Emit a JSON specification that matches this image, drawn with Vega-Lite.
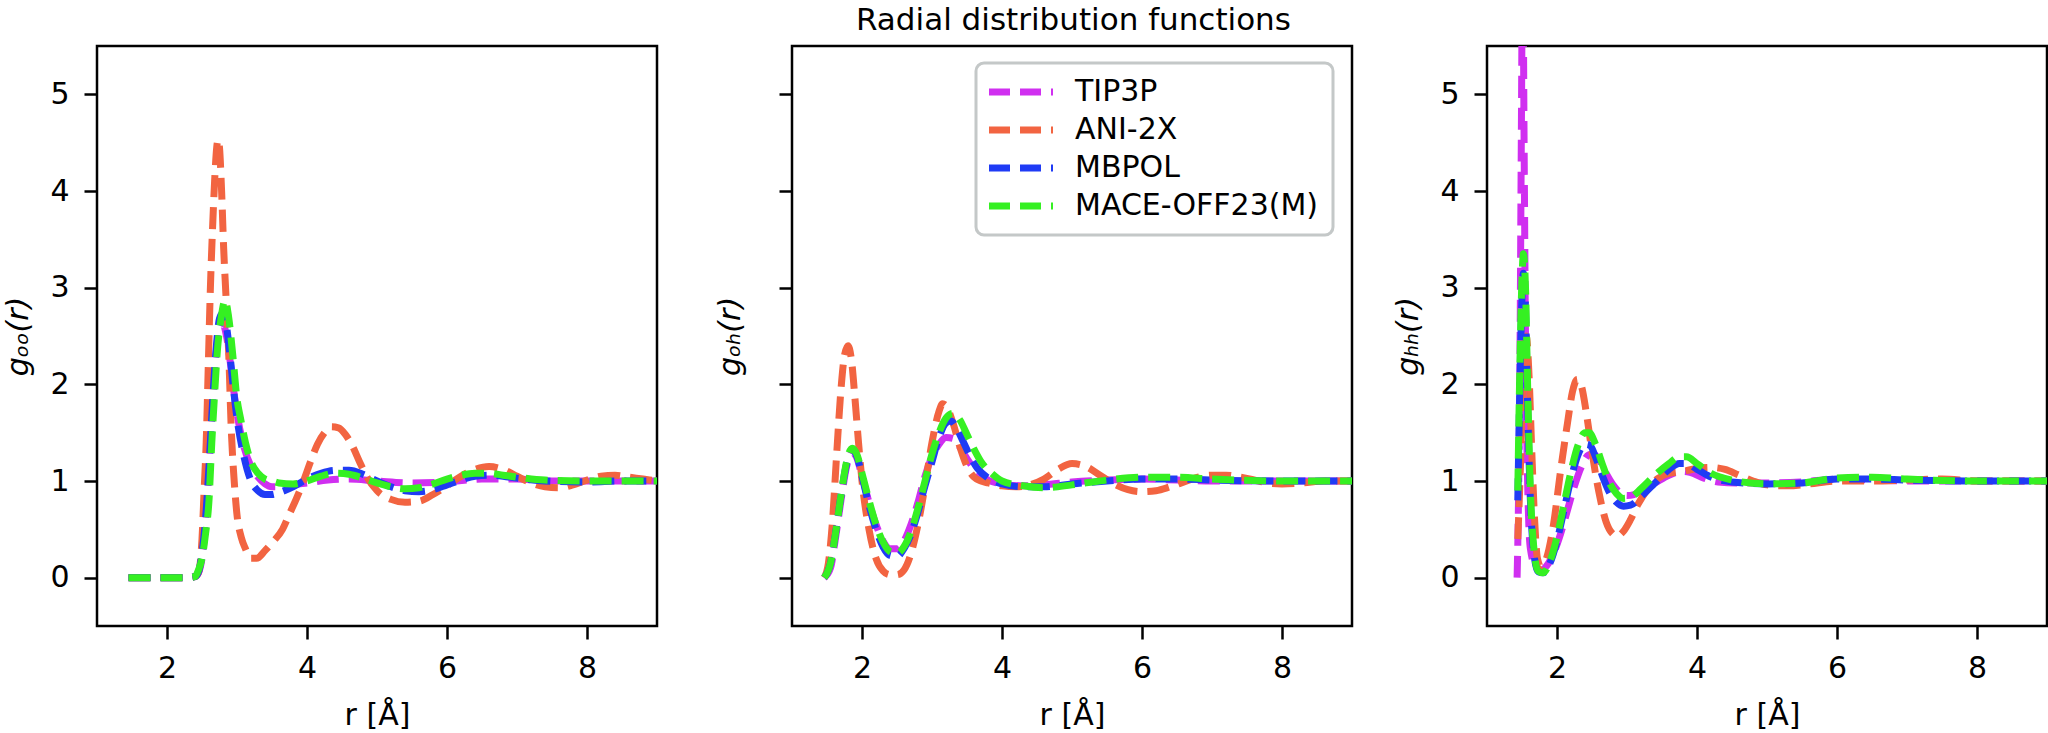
{
  "$schema": "https://vega.github.io/schema/vega-lite/v6.json",
  "background": "white",
  "padding": {"left": 2, "top": 4, "right": 0, "bottom": 0},
  "bounds": "flush",
  "spacing": 135,
  "title": {"text": "Radial distribution functions", "fontSize": 31, "font": "DejaVu Sans", "fontWeight": "normal", "color": "black", "anchor": "middle", "dx": 48, "offset": 8},
  "data": {"values": [
    {"p":"OO","m":"TIP3P","r":1.45,"g":0},{"p":"OO","m":"TIP3P","r":2.0,"g":0},{"p":"OO","m":"TIP3P","r":2.3,"g":0},{"p":"OO","m":"TIP3P","r":2.4,"g":0.01},{"p":"OO","m":"TIP3P","r":2.45,"g":0.05},{"p":"OO","m":"TIP3P","r":2.5,"g":0.2},{"p":"OO","m":"TIP3P","r":2.55,"g":0.55},{"p":"OO","m":"TIP3P","r":2.6,"g":1.1},{"p":"OO","m":"TIP3P","r":2.65,"g":1.75},{"p":"OO","m":"TIP3P","r":2.7,"g":2.3},{"p":"OO","m":"TIP3P","r":2.75,"g":2.58},{"p":"OO","m":"TIP3P","r":2.8,"g":2.62},{"p":"OO","m":"TIP3P","r":2.85,"g":2.5},{"p":"OO","m":"TIP3P","r":2.9,"g":2.25},{"p":"OO","m":"TIP3P","r":2.95,"g":1.95},{"p":"OO","m":"TIP3P","r":3.0,"g":1.7},{"p":"OO","m":"TIP3P","r":3.1,"g":1.35},{"p":"OO","m":"TIP3P","r":3.2,"g":1.15},{"p":"OO","m":"TIP3P","r":3.3,"g":1.04},{"p":"OO","m":"TIP3P","r":3.4,"g":0.97},{"p":"OO","m":"TIP3P","r":3.5,"g":0.94},{"p":"OO","m":"TIP3P","r":3.6,"g":0.94},{"p":"OO","m":"TIP3P","r":3.8,"g":0.96},{"p":"OO","m":"TIP3P","r":4.0,"g":0.98},{"p":"OO","m":"TIP3P","r":4.3,"g":1.01},{"p":"OO","m":"TIP3P","r":4.6,"g":1.02},{"p":"OO","m":"TIP3P","r":5.0,"g":1.0},{"p":"OO","m":"TIP3P","r":5.5,"g":0.98},{"p":"OO","m":"TIP3P","r":6.0,"g":0.99},{"p":"OO","m":"TIP3P","r":6.5,"g":1.02},{"p":"OO","m":"TIP3P","r":7.0,"g":1.02},{"p":"OO","m":"TIP3P","r":7.5,"g":1.0},{"p":"OO","m":"TIP3P","r":8.0,"g":1.0},{"p":"OO","m":"TIP3P","r":8.5,"g":1.0},{"p":"OO","m":"TIP3P","r":9.0,"g":1.0},
    {"p":"OO","m":"ANI-2X","r":1.45,"g":0},{"p":"OO","m":"ANI-2X","r":2.0,"g":0},{"p":"OO","m":"ANI-2X","r":2.3,"g":0},{"p":"OO","m":"ANI-2X","r":2.4,"g":0.01},{"p":"OO","m":"ANI-2X","r":2.45,"g":0.05},{"p":"OO","m":"ANI-2X","r":2.5,"g":0.4},{"p":"OO","m":"ANI-2X","r":2.53,"g":0.9},{"p":"OO","m":"ANI-2X","r":2.56,"g":1.4},{"p":"OO","m":"ANI-2X","r":2.59,"g":2.2},{"p":"OO","m":"ANI-2X","r":2.62,"g":3.0},{"p":"OO","m":"ANI-2X","r":2.65,"g":3.6},{"p":"OO","m":"ANI-2X","r":2.68,"g":4.1},{"p":"OO","m":"ANI-2X","r":2.71,"g":4.45},{"p":"OO","m":"ANI-2X","r":2.73,"g":4.53},{"p":"OO","m":"ANI-2X","r":2.75,"g":4.45},{"p":"OO","m":"ANI-2X","r":2.78,"g":4.0},{"p":"OO","m":"ANI-2X","r":2.81,"g":3.4},{"p":"OO","m":"ANI-2X","r":2.84,"g":2.95},{"p":"OO","m":"ANI-2X","r":2.88,"g":2.35},{"p":"OO","m":"ANI-2X","r":2.92,"g":1.5},{"p":"OO","m":"ANI-2X","r":2.96,"g":1.0},{"p":"OO","m":"ANI-2X","r":3.0,"g":0.65},{"p":"OO","m":"ANI-2X","r":3.06,"g":0.42},{"p":"OO","m":"ANI-2X","r":3.12,"g":0.3},{"p":"OO","m":"ANI-2X","r":3.2,"g":0.2},{"p":"OO","m":"ANI-2X","r":3.28,"g":0.2},{"p":"OO","m":"ANI-2X","r":3.4,"g":0.28},{"p":"OO","m":"ANI-2X","r":3.5,"g":0.36},{"p":"OO","m":"ANI-2X","r":3.65,"g":0.5},{"p":"OO","m":"ANI-2X","r":3.75,"g":0.66},{"p":"OO","m":"ANI-2X","r":3.85,"g":0.82},{"p":"OO","m":"ANI-2X","r":3.95,"g":1.0},{"p":"OO","m":"ANI-2X","r":4.05,"g":1.2},{"p":"OO","m":"ANI-2X","r":4.15,"g":1.38},{"p":"OO","m":"ANI-2X","r":4.25,"g":1.5},{"p":"OO","m":"ANI-2X","r":4.35,"g":1.56},{"p":"OO","m":"ANI-2X","r":4.45,"g":1.55},{"p":"OO","m":"ANI-2X","r":4.55,"g":1.48},{"p":"OO","m":"ANI-2X","r":4.65,"g":1.36},{"p":"OO","m":"ANI-2X","r":4.75,"g":1.2},{"p":"OO","m":"ANI-2X","r":4.85,"g":1.05},{"p":"OO","m":"ANI-2X","r":5.0,"g":0.9},{"p":"OO","m":"ANI-2X","r":5.2,"g":0.81},{"p":"OO","m":"ANI-2X","r":5.4,"g":0.78},{"p":"OO","m":"ANI-2X","r":5.6,"g":0.79},{"p":"OO","m":"ANI-2X","r":5.8,"g":0.86},{"p":"OO","m":"ANI-2X","r":6.0,"g":0.95},{"p":"OO","m":"ANI-2X","r":6.2,"g":1.05},{"p":"OO","m":"ANI-2X","r":6.4,"g":1.12},{"p":"OO","m":"ANI-2X","r":6.6,"g":1.15},{"p":"OO","m":"ANI-2X","r":6.8,"g":1.12},{"p":"OO","m":"ANI-2X","r":7.0,"g":1.05},{"p":"OO","m":"ANI-2X","r":7.2,"g":0.98},{"p":"OO","m":"ANI-2X","r":7.4,"g":0.94},{"p":"OO","m":"ANI-2X","r":7.6,"g":0.93},{"p":"OO","m":"ANI-2X","r":7.8,"g":0.96},{"p":"OO","m":"ANI-2X","r":8.0,"g":1.01},{"p":"OO","m":"ANI-2X","r":8.2,"g":1.05},{"p":"OO","m":"ANI-2X","r":8.4,"g":1.06},{"p":"OO","m":"ANI-2X","r":8.6,"g":1.04},{"p":"OO","m":"ANI-2X","r":8.8,"g":1.02},{"p":"OO","m":"ANI-2X","r":9.0,"g":1.0},
    {"p":"OO","m":"MBPOL","r":1.45,"g":0},{"p":"OO","m":"MBPOL","r":2.0,"g":0},{"p":"OO","m":"MBPOL","r":2.3,"g":0},{"p":"OO","m":"MBPOL","r":2.4,"g":0.01},{"p":"OO","m":"MBPOL","r":2.45,"g":0.06},{"p":"OO","m":"MBPOL","r":2.5,"g":0.25},{"p":"OO","m":"MBPOL","r":2.55,"g":0.6},{"p":"OO","m":"MBPOL","r":2.6,"g":1.15},{"p":"OO","m":"MBPOL","r":2.65,"g":1.8},{"p":"OO","m":"MBPOL","r":2.7,"g":2.35},{"p":"OO","m":"MBPOL","r":2.75,"g":2.68},{"p":"OO","m":"MBPOL","r":2.8,"g":2.74},{"p":"OO","m":"MBPOL","r":2.85,"g":2.6},{"p":"OO","m":"MBPOL","r":2.9,"g":2.3},{"p":"OO","m":"MBPOL","r":2.95,"g":1.95},{"p":"OO","m":"MBPOL","r":3.0,"g":1.65},{"p":"OO","m":"MBPOL","r":3.1,"g":1.25},{"p":"OO","m":"MBPOL","r":3.2,"g":1.0},{"p":"OO","m":"MBPOL","r":3.3,"g":0.9},{"p":"OO","m":"MBPOL","r":3.4,"g":0.86},{"p":"OO","m":"MBPOL","r":3.5,"g":0.86},{"p":"OO","m":"MBPOL","r":3.6,"g":0.88},{"p":"OO","m":"MBPOL","r":3.8,"g":0.94},{"p":"OO","m":"MBPOL","r":4.0,"g":1.02},{"p":"OO","m":"MBPOL","r":4.2,"g":1.08},{"p":"OO","m":"MBPOL","r":4.4,"g":1.11},{"p":"OO","m":"MBPOL","r":4.6,"g":1.11},{"p":"OO","m":"MBPOL","r":4.8,"g":1.07},{"p":"OO","m":"MBPOL","r":5.0,"g":1.0},{"p":"OO","m":"MBPOL","r":5.2,"g":0.94},{"p":"OO","m":"MBPOL","r":5.4,"g":0.9},{"p":"OO","m":"MBPOL","r":5.6,"g":0.89},{"p":"OO","m":"MBPOL","r":5.8,"g":0.91},{"p":"OO","m":"MBPOL","r":6.0,"g":0.96},{"p":"OO","m":"MBPOL","r":6.2,"g":1.01},{"p":"OO","m":"MBPOL","r":6.4,"g":1.05},{"p":"OO","m":"MBPOL","r":6.6,"g":1.06},{"p":"OO","m":"MBPOL","r":6.8,"g":1.05},{"p":"OO","m":"MBPOL","r":7.0,"g":1.03},{"p":"OO","m":"MBPOL","r":7.4,"g":1.0},{"p":"OO","m":"MBPOL","r":8.0,"g":0.99},{"p":"OO","m":"MBPOL","r":8.5,"g":1.0},{"p":"OO","m":"MBPOL","r":9.0,"g":1.0},
    {"p":"OO","m":"MACE-OFF23(M)","r":1.45,"g":0},{"p":"OO","m":"MACE-OFF23(M)","r":2.0,"g":0},{"p":"OO","m":"MACE-OFF23(M)","r":2.3,"g":0},{"p":"OO","m":"MACE-OFF23(M)","r":2.4,"g":0.01},{"p":"OO","m":"MACE-OFF23(M)","r":2.45,"g":0.08},{"p":"OO","m":"MACE-OFF23(M)","r":2.5,"g":0.2},{"p":"OO","m":"MACE-OFF23(M)","r":2.55,"g":0.45},{"p":"OO","m":"MACE-OFF23(M)","r":2.6,"g":0.8},{"p":"OO","m":"MACE-OFF23(M)","r":2.64,"g":1.4},{"p":"OO","m":"MACE-OFF23(M)","r":2.68,"g":1.9},{"p":"OO","m":"MACE-OFF23(M)","r":2.72,"g":2.35},{"p":"OO","m":"MACE-OFF23(M)","r":2.77,"g":2.67},{"p":"OO","m":"MACE-OFF23(M)","r":2.83,"g":2.87},{"p":"OO","m":"MACE-OFF23(M)","r":2.88,"g":2.7},{"p":"OO","m":"MACE-OFF23(M)","r":2.94,"g":2.3},{"p":"OO","m":"MACE-OFF23(M)","r":3.0,"g":1.85},{"p":"OO","m":"MACE-OFF23(M)","r":3.05,"g":1.65},{"p":"OO","m":"MACE-OFF23(M)","r":3.12,"g":1.4},{"p":"OO","m":"MACE-OFF23(M)","r":3.2,"g":1.2},{"p":"OO","m":"MACE-OFF23(M)","r":3.3,"g":1.08},{"p":"OO","m":"MACE-OFF23(M)","r":3.4,"g":1.02},{"p":"OO","m":"MACE-OFF23(M)","r":3.5,"g":1.0},{"p":"OO","m":"MACE-OFF23(M)","r":3.6,"g":0.98},{"p":"OO","m":"MACE-OFF23(M)","r":3.8,"g":0.97},{"p":"OO","m":"MACE-OFF23(M)","r":4.0,"g":1.0},{"p":"OO","m":"MACE-OFF23(M)","r":4.2,"g":1.05},{"p":"OO","m":"MACE-OFF23(M)","r":4.4,"g":1.08},{"p":"OO","m":"MACE-OFF23(M)","r":4.6,"g":1.07},{"p":"OO","m":"MACE-OFF23(M)","r":4.8,"g":1.03},{"p":"OO","m":"MACE-OFF23(M)","r":5.0,"g":0.98},{"p":"OO","m":"MACE-OFF23(M)","r":5.2,"g":0.94},{"p":"OO","m":"MACE-OFF23(M)","r":5.4,"g":0.92},{"p":"OO","m":"MACE-OFF23(M)","r":5.6,"g":0.93},{"p":"OO","m":"MACE-OFF23(M)","r":5.8,"g":0.97},{"p":"OO","m":"MACE-OFF23(M)","r":6.0,"g":1.02},{"p":"OO","m":"MACE-OFF23(M)","r":6.2,"g":1.06},{"p":"OO","m":"MACE-OFF23(M)","r":6.4,"g":1.08},{"p":"OO","m":"MACE-OFF23(M)","r":6.6,"g":1.08},{"p":"OO","m":"MACE-OFF23(M)","r":6.8,"g":1.06},{"p":"OO","m":"MACE-OFF23(M)","r":7.0,"g":1.04},{"p":"OO","m":"MACE-OFF23(M)","r":7.4,"g":1.01},{"p":"OO","m":"MACE-OFF23(M)","r":8.0,"g":1.0},{"p":"OO","m":"MACE-OFF23(M)","r":8.5,"g":1.0},{"p":"OO","m":"MACE-OFF23(M)","r":9.0,"g":1.0},

    {"p":"OH","m":"TIP3P","r":1.46,"g":0},{"p":"OH","m":"TIP3P","r":1.55,"g":0.1},{"p":"OH","m":"TIP3P","r":1.62,"g":0.4},{"p":"OH","m":"TIP3P","r":1.7,"g":0.8},{"p":"OH","m":"TIP3P","r":1.78,"g":1.15},{"p":"OH","m":"TIP3P","r":1.85,"g":1.3},{"p":"OH","m":"TIP3P","r":1.92,"g":1.25},{"p":"OH","m":"TIP3P","r":2.0,"g":1.05},{"p":"OH","m":"TIP3P","r":2.1,"g":0.78},{"p":"OH","m":"TIP3P","r":2.2,"g":0.55},{"p":"OH","m":"TIP3P","r":2.3,"g":0.38},{"p":"OH","m":"TIP3P","r":2.4,"g":0.3},{"p":"OH","m":"TIP3P","r":2.5,"g":0.3},{"p":"OH","m":"TIP3P","r":2.6,"g":0.38},{"p":"OH","m":"TIP3P","r":2.7,"g":0.55},{"p":"OH","m":"TIP3P","r":2.8,"g":0.78},{"p":"OH","m":"TIP3P","r":2.9,"g":1.05},{"p":"OH","m":"TIP3P","r":3.0,"g":1.25},{"p":"OH","m":"TIP3P","r":3.1,"g":1.38},{"p":"OH","m":"TIP3P","r":3.2,"g":1.45},{"p":"OH","m":"TIP3P","r":3.3,"g":1.44},{"p":"OH","m":"TIP3P","r":3.4,"g":1.35},{"p":"OH","m":"TIP3P","r":3.5,"g":1.23},{"p":"OH","m":"TIP3P","r":3.6,"g":1.13},{"p":"OH","m":"TIP3P","r":3.7,"g":1.06},{"p":"OH","m":"TIP3P","r":3.8,"g":1.01},{"p":"OH","m":"TIP3P","r":4.0,"g":0.97},{"p":"OH","m":"TIP3P","r":4.3,"g":0.95},{"p":"OH","m":"TIP3P","r":4.6,"g":0.96},{"p":"OH","m":"TIP3P","r":5.0,"g":0.99},{"p":"OH","m":"TIP3P","r":5.5,"g":1.01},{"p":"OH","m":"TIP3P","r":6.0,"g":1.02},{"p":"OH","m":"TIP3P","r":6.5,"g":1.01},{"p":"OH","m":"TIP3P","r":7.0,"g":1.0},{"p":"OH","m":"TIP3P","r":8.0,"g":1.0},{"p":"OH","m":"TIP3P","r":9.0,"g":1.0},
    {"p":"OH","m":"ANI-2X","r":1.46,"g":0},{"p":"OH","m":"ANI-2X","r":1.52,"g":0.15},{"p":"OH","m":"ANI-2X","r":1.58,"g":0.6},{"p":"OH","m":"ANI-2X","r":1.64,"g":1.3},{"p":"OH","m":"ANI-2X","r":1.7,"g":1.95},{"p":"OH","m":"ANI-2X","r":1.75,"g":2.3},{"p":"OH","m":"ANI-2X","r":1.8,"g":2.4},{"p":"OH","m":"ANI-2X","r":1.85,"g":2.25},{"p":"OH","m":"ANI-2X","r":1.9,"g":1.85},{"p":"OH","m":"ANI-2X","r":1.95,"g":1.4},{"p":"OH","m":"ANI-2X","r":2.0,"g":1.0},{"p":"OH","m":"ANI-2X","r":2.1,"g":0.5},{"p":"OH","m":"ANI-2X","r":2.2,"g":0.2},{"p":"OH","m":"ANI-2X","r":2.3,"g":0.07},{"p":"OH","m":"ANI-2X","r":2.4,"g":0.03},{"p":"OH","m":"ANI-2X","r":2.5,"g":0.03},{"p":"OH","m":"ANI-2X","r":2.6,"g":0.08},{"p":"OH","m":"ANI-2X","r":2.7,"g":0.25},{"p":"OH","m":"ANI-2X","r":2.8,"g":0.55},{"p":"OH","m":"ANI-2X","r":2.9,"g":0.95},{"p":"OH","m":"ANI-2X","r":3.0,"g":1.4},{"p":"OH","m":"ANI-2X","r":3.1,"g":1.72},{"p":"OH","m":"ANI-2X","r":3.15,"g":1.8},{"p":"OH","m":"ANI-2X","r":3.2,"g":1.78},{"p":"OH","m":"ANI-2X","r":3.3,"g":1.6},{"p":"OH","m":"ANI-2X","r":3.4,"g":1.35},{"p":"OH","m":"ANI-2X","r":3.5,"g":1.15},{"p":"OH","m":"ANI-2X","r":3.6,"g":1.04},{"p":"OH","m":"ANI-2X","r":3.7,"g":1.0},{"p":"OH","m":"ANI-2X","r":3.8,"g":0.98},{"p":"OH","m":"ANI-2X","r":4.0,"g":0.95},{"p":"OH","m":"ANI-2X","r":4.2,"g":0.94},{"p":"OH","m":"ANI-2X","r":4.4,"g":0.96},{"p":"OH","m":"ANI-2X","r":4.6,"g":1.02},{"p":"OH","m":"ANI-2X","r":4.8,"g":1.12},{"p":"OH","m":"ANI-2X","r":5.0,"g":1.18},{"p":"OH","m":"ANI-2X","r":5.2,"g":1.15},{"p":"OH","m":"ANI-2X","r":5.4,"g":1.06},{"p":"OH","m":"ANI-2X","r":5.6,"g":0.97},{"p":"OH","m":"ANI-2X","r":5.8,"g":0.91},{"p":"OH","m":"ANI-2X","r":6.0,"g":0.89},{"p":"OH","m":"ANI-2X","r":6.2,"g":0.9},{"p":"OH","m":"ANI-2X","r":6.4,"g":0.94},{"p":"OH","m":"ANI-2X","r":6.6,"g":0.99},{"p":"OH","m":"ANI-2X","r":6.8,"g":1.04},{"p":"OH","m":"ANI-2X","r":7.0,"g":1.06},{"p":"OH","m":"ANI-2X","r":7.2,"g":1.06},{"p":"OH","m":"ANI-2X","r":7.4,"g":1.04},{"p":"OH","m":"ANI-2X","r":7.6,"g":1.01},{"p":"OH","m":"ANI-2X","r":7.8,"g":0.98},{"p":"OH","m":"ANI-2X","r":8.0,"g":0.97},{"p":"OH","m":"ANI-2X","r":8.3,"g":0.98},{"p":"OH","m":"ANI-2X","r":8.6,"g":1.0},{"p":"OH","m":"ANI-2X","r":9.0,"g":1.0},
    {"p":"OH","m":"MBPOL","r":1.46,"g":0},{"p":"OH","m":"MBPOL","r":1.55,"g":0.15},{"p":"OH","m":"MBPOL","r":1.62,"g":0.45},{"p":"OH","m":"MBPOL","r":1.7,"g":0.85},{"p":"OH","m":"MBPOL","r":1.78,"g":1.18},{"p":"OH","m":"MBPOL","r":1.86,"g":1.32},{"p":"OH","m":"MBPOL","r":1.93,"g":1.25},{"p":"OH","m":"MBPOL","r":2.0,"g":1.05},{"p":"OH","m":"MBPOL","r":2.1,"g":0.75},{"p":"OH","m":"MBPOL","r":2.2,"g":0.5},{"p":"OH","m":"MBPOL","r":2.3,"g":0.32},{"p":"OH","m":"MBPOL","r":2.4,"g":0.23},{"p":"OH","m":"MBPOL","r":2.5,"g":0.22},{"p":"OH","m":"MBPOL","r":2.6,"g":0.3},{"p":"OH","m":"MBPOL","r":2.7,"g":0.45},{"p":"OH","m":"MBPOL","r":2.8,"g":0.68},{"p":"OH","m":"MBPOL","r":2.9,"g":0.95},{"p":"OH","m":"MBPOL","r":3.0,"g":1.2},{"p":"OH","m":"MBPOL","r":3.1,"g":1.45},{"p":"OH","m":"MBPOL","r":3.2,"g":1.6},{"p":"OH","m":"MBPOL","r":3.27,"g":1.62},{"p":"OH","m":"MBPOL","r":3.35,"g":1.55},{"p":"OH","m":"MBPOL","r":3.45,"g":1.4},{"p":"OH","m":"MBPOL","r":3.55,"g":1.25},{"p":"OH","m":"MBPOL","r":3.65,"g":1.13},{"p":"OH","m":"MBPOL","r":3.8,"g":1.03},{"p":"OH","m":"MBPOL","r":4.0,"g":0.97},{"p":"OH","m":"MBPOL","r":4.3,"g":0.94},{"p":"OH","m":"MBPOL","r":4.6,"g":0.94},{"p":"OH","m":"MBPOL","r":5.0,"g":0.97},{"p":"OH","m":"MBPOL","r":5.5,"g":1.0},{"p":"OH","m":"MBPOL","r":6.0,"g":1.02},{"p":"OH","m":"MBPOL","r":6.5,"g":1.02},{"p":"OH","m":"MBPOL","r":7.0,"g":1.01},{"p":"OH","m":"MBPOL","r":8.0,"g":1.0},{"p":"OH","m":"MBPOL","r":9.0,"g":1.0},
    {"p":"OH","m":"MACE-OFF23(M)","r":1.46,"g":0},{"p":"OH","m":"MACE-OFF23(M)","r":1.55,"g":0.15},{"p":"OH","m":"MACE-OFF23(M)","r":1.62,"g":0.45},{"p":"OH","m":"MACE-OFF23(M)","r":1.7,"g":0.85},{"p":"OH","m":"MACE-OFF23(M)","r":1.78,"g":1.2},{"p":"OH","m":"MACE-OFF23(M)","r":1.86,"g":1.34},{"p":"OH","m":"MACE-OFF23(M)","r":1.93,"g":1.27},{"p":"OH","m":"MACE-OFF23(M)","r":2.0,"g":1.08},{"p":"OH","m":"MACE-OFF23(M)","r":2.1,"g":0.8},{"p":"OH","m":"MACE-OFF23(M)","r":2.2,"g":0.55},{"p":"OH","m":"MACE-OFF23(M)","r":2.3,"g":0.37},{"p":"OH","m":"MACE-OFF23(M)","r":2.4,"g":0.27},{"p":"OH","m":"MACE-OFF23(M)","r":2.5,"g":0.25},{"p":"OH","m":"MACE-OFF23(M)","r":2.6,"g":0.32},{"p":"OH","m":"MACE-OFF23(M)","r":2.7,"g":0.48},{"p":"OH","m":"MACE-OFF23(M)","r":2.8,"g":0.72},{"p":"OH","m":"MACE-OFF23(M)","r":2.9,"g":1.0},{"p":"OH","m":"MACE-OFF23(M)","r":3.0,"g":1.28},{"p":"OH","m":"MACE-OFF23(M)","r":3.1,"g":1.5},{"p":"OH","m":"MACE-OFF23(M)","r":3.2,"g":1.65},{"p":"OH","m":"MACE-OFF23(M)","r":3.3,"g":1.7},{"p":"OH","m":"MACE-OFF23(M)","r":3.4,"g":1.63},{"p":"OH","m":"MACE-OFF23(M)","r":3.5,"g":1.48},{"p":"OH","m":"MACE-OFF23(M)","r":3.6,"g":1.33},{"p":"OH","m":"MACE-OFF23(M)","r":3.7,"g":1.2},{"p":"OH","m":"MACE-OFF23(M)","r":3.85,"g":1.08},{"p":"OH","m":"MACE-OFF23(M)","r":4.0,"g":1.0},{"p":"OH","m":"MACE-OFF23(M)","r":4.3,"g":0.95},{"p":"OH","m":"MACE-OFF23(M)","r":4.6,"g":0.93},{"p":"OH","m":"MACE-OFF23(M)","r":5.0,"g":0.96},{"p":"OH","m":"MACE-OFF23(M)","r":5.5,"g":1.01},{"p":"OH","m":"MACE-OFF23(M)","r":6.0,"g":1.04},{"p":"OH","m":"MACE-OFF23(M)","r":6.5,"g":1.04},{"p":"OH","m":"MACE-OFF23(M)","r":7.0,"g":1.02},{"p":"OH","m":"MACE-OFF23(M)","r":8.0,"g":1.0},{"p":"OH","m":"MACE-OFF23(M)","r":9.0,"g":1.0},

    {"p":"HH","m":"TIP3P","r":1.43,"g":0},{"p":"HH","m":"TIP3P","r":1.45,"g":0.8},{"p":"HH","m":"TIP3P","r":1.47,"g":2.2},{"p":"HH","m":"TIP3P","r":1.49,"g":4.5},{"p":"HH","m":"TIP3P","r":1.51,"g":6.5},{"p":"HH","m":"TIP3P","r":1.53,"g":4.5},{"p":"HH","m":"TIP3P","r":1.55,"g":2.5},{"p":"HH","m":"TIP3P","r":1.58,"g":1.0},{"p":"HH","m":"TIP3P","r":1.62,"g":0.3},{"p":"HH","m":"TIP3P","r":1.7,"g":0.1},{"p":"HH","m":"TIP3P","r":1.78,"g":0.08},{"p":"HH","m":"TIP3P","r":1.85,"g":0.12},{"p":"HH","m":"TIP3P","r":1.95,"g":0.25},{"p":"HH","m":"TIP3P","r":2.05,"g":0.45},{"p":"HH","m":"TIP3P","r":2.15,"g":0.7},{"p":"HH","m":"TIP3P","r":2.25,"g":0.95},{"p":"HH","m":"TIP3P","r":2.35,"g":1.15},{"p":"HH","m":"TIP3P","r":2.45,"g":1.27},{"p":"HH","m":"TIP3P","r":2.52,"g":1.28},{"p":"HH","m":"TIP3P","r":2.6,"g":1.22},{"p":"HH","m":"TIP3P","r":2.7,"g":1.08},{"p":"HH","m":"TIP3P","r":2.8,"g":0.96},{"p":"HH","m":"TIP3P","r":2.9,"g":0.88},{"p":"HH","m":"TIP3P","r":3.0,"g":0.85},{"p":"HH","m":"TIP3P","r":3.1,"g":0.86},{"p":"HH","m":"TIP3P","r":3.2,"g":0.9},{"p":"HH","m":"TIP3P","r":3.4,"g":0.98},{"p":"HH","m":"TIP3P","r":3.6,"g":1.06},{"p":"HH","m":"TIP3P","r":3.8,"g":1.1},{"p":"HH","m":"TIP3P","r":3.9,"g":1.09},{"p":"HH","m":"TIP3P","r":4.1,"g":1.03},{"p":"HH","m":"TIP3P","r":4.3,"g":0.99},{"p":"HH","m":"TIP3P","r":4.6,"g":0.98},{"p":"HH","m":"TIP3P","r":5.0,"g":0.98},{"p":"HH","m":"TIP3P","r":5.5,"g":0.99},{"p":"HH","m":"TIP3P","r":6.0,"g":1.02},{"p":"HH","m":"TIP3P","r":6.5,"g":1.01},{"p":"HH","m":"TIP3P","r":7.0,"g":1.0},{"p":"HH","m":"TIP3P","r":8.0,"g":1.0},{"p":"HH","m":"TIP3P","r":9.0,"g":1.0},
    {"p":"HH","m":"ANI-2X","r":1.44,"g":0.4},{"p":"HH","m":"ANI-2X","r":1.48,"g":1.2},{"p":"HH","m":"ANI-2X","r":1.52,"g":2.2},{"p":"HH","m":"ANI-2X","r":1.56,"g":2.5},{"p":"HH","m":"ANI-2X","r":1.6,"g":2.1},{"p":"HH","m":"ANI-2X","r":1.64,"g":1.3},{"p":"HH","m":"ANI-2X","r":1.68,"g":0.6},{"p":"HH","m":"ANI-2X","r":1.72,"g":0.2},{"p":"HH","m":"ANI-2X","r":1.78,"g":0.1},{"p":"HH","m":"ANI-2X","r":1.85,"g":0.2},{"p":"HH","m":"ANI-2X","r":1.95,"g":0.55},{"p":"HH","m":"ANI-2X","r":2.05,"g":1.1},{"p":"HH","m":"ANI-2X","r":2.15,"g":1.6},{"p":"HH","m":"ANI-2X","r":2.22,"g":1.92},{"p":"HH","m":"ANI-2X","r":2.29,"g":2.05},{"p":"HH","m":"ANI-2X","r":2.35,"g":1.98},{"p":"HH","m":"ANI-2X","r":2.42,"g":1.7},{"p":"HH","m":"ANI-2X","r":2.5,"g":1.3},{"p":"HH","m":"ANI-2X","r":2.6,"g":0.88},{"p":"HH","m":"ANI-2X","r":2.7,"g":0.58},{"p":"HH","m":"ANI-2X","r":2.8,"g":0.45},{"p":"HH","m":"ANI-2X","r":2.86,"g":0.43},{"p":"HH","m":"ANI-2X","r":2.95,"g":0.48},{"p":"HH","m":"ANI-2X","r":3.05,"g":0.6},{"p":"HH","m":"ANI-2X","r":3.15,"g":0.75},{"p":"HH","m":"ANI-2X","r":3.3,"g":0.92},{"p":"HH","m":"ANI-2X","r":3.45,"g":1.03},{"p":"HH","m":"ANI-2X","r":3.6,"g":1.08},{"p":"HH","m":"ANI-2X","r":3.8,"g":1.1},{"p":"HH","m":"ANI-2X","r":4.0,"g":1.13},{"p":"HH","m":"ANI-2X","r":4.2,"g":1.14},{"p":"HH","m":"ANI-2X","r":4.4,"g":1.12},{"p":"HH","m":"ANI-2X","r":4.6,"g":1.06},{"p":"HH","m":"ANI-2X","r":4.8,"g":1.0},{"p":"HH","m":"ANI-2X","r":5.0,"g":0.96},{"p":"HH","m":"ANI-2X","r":5.3,"g":0.95},{"p":"HH","m":"ANI-2X","r":5.6,"g":0.97},{"p":"HH","m":"ANI-2X","r":6.0,"g":1.0},{"p":"HH","m":"ANI-2X","r":6.5,"g":1.0},{"p":"HH","m":"ANI-2X","r":7.0,"g":1.01},{"p":"HH","m":"ANI-2X","r":7.5,"g":1.02},{"p":"HH","m":"ANI-2X","r":8.0,"g":1.0},{"p":"HH","m":"ANI-2X","r":9.0,"g":1.0},
    {"p":"HH","m":"MBPOL","r":1.44,"g":0.8},{"p":"HH","m":"MBPOL","r":1.47,"g":2.0},{"p":"HH","m":"MBPOL","r":1.5,"g":2.9},{"p":"HH","m":"MBPOL","r":1.52,"g":3.15},{"p":"HH","m":"MBPOL","r":1.55,"g":2.8},{"p":"HH","m":"MBPOL","r":1.58,"g":1.8},{"p":"HH","m":"MBPOL","r":1.62,"g":0.8},{"p":"HH","m":"MBPOL","r":1.67,"g":0.25},{"p":"HH","m":"MBPOL","r":1.73,"g":0.06},{"p":"HH","m":"MBPOL","r":1.8,"g":0.05},{"p":"HH","m":"MBPOL","r":1.9,"g":0.15},{"p":"HH","m":"MBPOL","r":2.0,"g":0.38},{"p":"HH","m":"MBPOL","r":2.1,"g":0.7},{"p":"HH","m":"MBPOL","r":2.2,"g":1.02},{"p":"HH","m":"MBPOL","r":2.3,"g":1.27},{"p":"HH","m":"MBPOL","r":2.4,"g":1.38},{"p":"HH","m":"MBPOL","r":2.47,"g":1.37},{"p":"HH","m":"MBPOL","r":2.55,"g":1.25},{"p":"HH","m":"MBPOL","r":2.65,"g":1.05},{"p":"HH","m":"MBPOL","r":2.75,"g":0.88},{"p":"HH","m":"MBPOL","r":2.85,"g":0.78},{"p":"HH","m":"MBPOL","r":2.95,"g":0.74},{"p":"HH","m":"MBPOL","r":3.05,"g":0.75},{"p":"HH","m":"MBPOL","r":3.2,"g":0.84},{"p":"HH","m":"MBPOL","r":3.4,"g":0.98},{"p":"HH","m":"MBPOL","r":3.6,"g":1.12},{"p":"HH","m":"MBPOL","r":3.75,"g":1.18},{"p":"HH","m":"MBPOL","r":3.85,"g":1.18},{"p":"HH","m":"MBPOL","r":4.0,"g":1.12},{"p":"HH","m":"MBPOL","r":4.2,"g":1.04},{"p":"HH","m":"MBPOL","r":4.5,"g":0.99},{"p":"HH","m":"MBPOL","r":5.0,"g":0.97},{"p":"HH","m":"MBPOL","r":5.5,"g":0.98},{"p":"HH","m":"MBPOL","r":6.0,"g":1.02},{"p":"HH","m":"MBPOL","r":6.5,"g":1.02},{"p":"HH","m":"MBPOL","r":7.0,"g":1.01},{"p":"HH","m":"MBPOL","r":8.0,"g":1.0},{"p":"HH","m":"MBPOL","r":9.0,"g":1.0},
    {"p":"HH","m":"MACE-OFF23(M)","r":1.44,"g":0.9},{"p":"HH","m":"MACE-OFF23(M)","r":1.47,"g":2.2},{"p":"HH","m":"MACE-OFF23(M)","r":1.5,"g":3.1},{"p":"HH","m":"MACE-OFF23(M)","r":1.52,"g":3.35},{"p":"HH","m":"MACE-OFF23(M)","r":1.55,"g":3.0},{"p":"HH","m":"MACE-OFF23(M)","r":1.58,"g":2.0},{"p":"HH","m":"MACE-OFF23(M)","r":1.62,"g":0.9},{"p":"HH","m":"MACE-OFF23(M)","r":1.67,"g":0.3},{"p":"HH","m":"MACE-OFF23(M)","r":1.73,"g":0.07},{"p":"HH","m":"MACE-OFF23(M)","r":1.8,"g":0.05},{"p":"HH","m":"MACE-OFF23(M)","r":1.9,"g":0.17},{"p":"HH","m":"MACE-OFF23(M)","r":2.0,"g":0.42},{"p":"HH","m":"MACE-OFF23(M)","r":2.1,"g":0.76},{"p":"HH","m":"MACE-OFF23(M)","r":2.2,"g":1.1},{"p":"HH","m":"MACE-OFF23(M)","r":2.3,"g":1.37},{"p":"HH","m":"MACE-OFF23(M)","r":2.4,"g":1.5},{"p":"HH","m":"MACE-OFF23(M)","r":2.46,"g":1.5},{"p":"HH","m":"MACE-OFF23(M)","r":2.55,"g":1.38},{"p":"HH","m":"MACE-OFF23(M)","r":2.65,"g":1.17},{"p":"HH","m":"MACE-OFF23(M)","r":2.75,"g":0.98},{"p":"HH","m":"MACE-OFF23(M)","r":2.85,"g":0.87},{"p":"HH","m":"MACE-OFF23(M)","r":2.95,"g":0.82},{"p":"HH","m":"MACE-OFF23(M)","r":3.05,"g":0.83},{"p":"HH","m":"MACE-OFF23(M)","r":3.2,"g":0.92},{"p":"HH","m":"MACE-OFF23(M)","r":3.4,"g":1.06},{"p":"HH","m":"MACE-OFF23(M)","r":3.6,"g":1.18},{"p":"HH","m":"MACE-OFF23(M)","r":3.75,"g":1.25},{"p":"HH","m":"MACE-OFF23(M)","r":3.85,"g":1.25},{"p":"HH","m":"MACE-OFF23(M)","r":4.0,"g":1.18},{"p":"HH","m":"MACE-OFF23(M)","r":4.2,"g":1.08},{"p":"HH","m":"MACE-OFF23(M)","r":4.5,"g":1.01},{"p":"HH","m":"MACE-OFF23(M)","r":5.0,"g":0.97},{"p":"HH","m":"MACE-OFF23(M)","r":5.5,"g":0.98},{"p":"HH","m":"MACE-OFF23(M)","r":6.0,"g":1.03},{"p":"HH","m":"MACE-OFF23(M)","r":6.5,"g":1.04},{"p":"HH","m":"MACE-OFF23(M)","r":7.0,"g":1.02},{"p":"HH","m":"MACE-OFF23(M)","r":8.0,"g":1.0},{"p":"HH","m":"MACE-OFF23(M)","r":9.0,"g":1.0}
  ]},
  "hconcat": [
    {
      "width": 560, "height": 580,
      "transform": [{"filter": "datum.p === 'OO'"}],
      "mark": {"type": "line", "strokeWidth": 7, "strokeDash": [22, 10], "clip": true, "interpolate": "monotone"},
      "encoding": {
        "x": {"field": "r", "type": "quantitative", "scale": {"domain": [1, 9], "nice": false}, "axis": {"values": [2, 4, 6, 8], "title": "r [Å]"}},
        "y": {"field": "g", "type": "quantitative", "scale": {"domain": [-0.5, 5.5], "nice": false, "zero": false}, "axis": {"values": [0, 1, 2, 3, 4, 5], "title": "gₒₒ(r)"}},
        "color": {"field": "m", "type": "nominal", "scale": {"domain": ["TIP3P", "ANI-2X", "MBPOL", "MACE-OFF23(M)"], "range": ["#d02ff0", "#f26441", "#1f3bf5", "#35f022"]}, "legend": {"orient": "none", "legendX": 879, "legendY": 17, "title": null}}
      }
    },
    {
      "width": 560, "height": 580,
      "transform": [{"filter": "datum.p === 'OH'"}],
      "mark": {"type": "line", "strokeWidth": 7, "strokeDash": [22, 10], "clip": true, "interpolate": "monotone"},
      "encoding": {
        "x": {"field": "r", "type": "quantitative", "scale": {"domain": [1, 9], "nice": false}, "axis": {"values": [2, 4, 6, 8], "title": "r [Å]"}},
        "y": {"field": "g", "type": "quantitative", "scale": {"domain": [-0.5, 5.5], "nice": false, "zero": false}, "axis": {"values": [0, 1, 2, 3, 4, 5], "labels": false, "titlePadding": 32, "title": "gₒₕ(r)"}},
        "color": {"field": "m", "type": "nominal", "scale": {"domain": ["TIP3P", "ANI-2X", "MBPOL", "MACE-OFF23(M)"], "range": ["#d02ff0", "#f26441", "#1f3bf5", "#35f022"]}, "legend": {"orient": "none", "legendX": 879, "legendY": 17, "title": null}}
      }
    },
    {
      "width": 560, "height": 580,
      "transform": [{"filter": "datum.p === 'HH'"}],
      "mark": {"type": "line", "strokeWidth": 7, "strokeDash": [22, 10], "clip": true, "interpolate": "monotone"},
      "encoding": {
        "x": {"field": "r", "type": "quantitative", "scale": {"domain": [1, 9], "nice": false}, "axis": {"values": [2, 4, 6, 8], "title": "r [Å]"}},
        "y": {"field": "g", "type": "quantitative", "scale": {"domain": [-0.5, 5.5], "nice": false, "zero": false}, "axis": {"values": [0, 1, 2, 3, 4, 5], "title": "gₕₕ(r)"}},
        "color": {"field": "m", "type": "nominal", "scale": {"domain": ["TIP3P", "ANI-2X", "MBPOL", "MACE-OFF23(M)"], "range": ["#d02ff0", "#f26441", "#1f3bf5", "#35f022"]}, "legend": {"orient": "none", "legendX": 879, "legendY": 17, "title": null}}
      }
    }
  ],
  "config": {
    "font": "DejaVu Sans",
    "view": {"stroke": "black", "strokeWidth": 2.5},
    "axis": {"domain": false, "grid": false, "ticks": true, "tickColor": "black", "tickWidth": 2.5, "tickSize": 13, "labelFont": "DejaVu Sans", "labelFontSize": 30, "labelColor": "black", "titleFont": "DejaVu Sans", "titleFontSize": 30, "titleFontWeight": "normal", "titleColor": "black"},
    "axisX": {"labelPadding": 14, "titlePadding": 17},
    "axisY": {"labelPadding": 15, "titlePadding": 16, "titleFontStyle": "italic"},
    "legend": {"symbolType": "M-2,0H6", "symbolSize": 256, "symbolStrokeWidth": 7, "symbolDash": [21, 10], "labelFont": "DejaVu Sans", "labelFontSize": 30, "labelColor": "black", "labelOffset": 55, "labelLimit": 0, "rowPadding": 8, "padding": 14, "fillColor": "white", "strokeColor": "#c4c8c8", "strokeWidth": 3, "cornerRadius": 8}
  }
}
